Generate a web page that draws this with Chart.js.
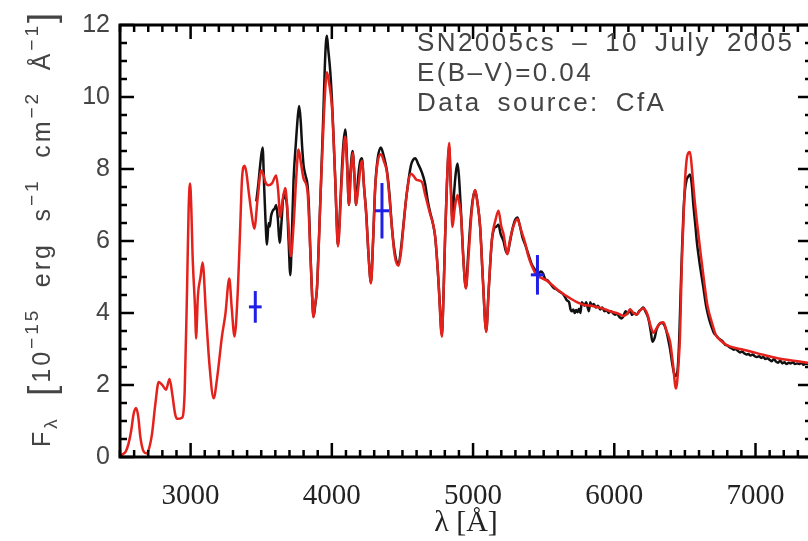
<!DOCTYPE html>
<html>
<head>
<meta charset="utf-8">
<script src="https://cdn.jsdelivr.net/npm/chart.js@4.4.1/dist/chart.umd.min.js"></script>
<style>
  html, body { margin: 0; padding: 0; background: #fff; overflow: hidden; }
  #wrap { position: relative; width: 830px; height: 541px; }
</style>
</head>
<body>
<div id="wrap"><canvas id="spectrumChart"></canvas></div>
<script>
// model spectrum (red), wavelength in Angstrom, flux in 1e-15 erg/s/cm2/A
const modelWave = [2500, 2514, 2540, 2561, 2580, 2596, 2614, 2630, 2644, 2668, 2691, 2710, 2727, 2750, 2774, 2800, 2826, 2851, 2870, 2890,
  2904, 2939, 2958, 2975, 2986, 2996, 3005, 3014, 3033, 3038, 3052, 3070, 3085, 3109, 3134, 3163, 3187, 3222, 3246, 3274,
  3290, 3311, 3335, 3352, 3364, 3382, 3395, 3411, 3430, 3451, 3475, 3500, 3515, 3529, 3550, 3576, 3606, 3620, 3635, 3650,
  3670, 3690, 3710, 3730, 3750, 3764, 3780, 3800, 3828, 3847, 3860, 3870, 3880, 3895, 3923, 3945, 3965, 3980, 4001, 4024,
  4043, 4070, 4095, 4110, 4121, 4135, 4147, 4160, 4172, 4185, 4213, 4230, 4243, 4260, 4277, 4292, 4307, 4325, 4347, 4370,
  4390, 4408, 4425, 4445, 4472, 4490, 4507, 4530, 4560, 4580, 4600, 4638, 4660, 4696, 4715, 4732, 4755, 4779, 4790, 4802,
  4815, 4831, 4842, 4854, 4870, 4890, 4900, 4916, 4930, 4949, 4970, 4990, 5015, 5030, 5050, 5070, 5093, 5110, 5133, 5160,
  5180, 5200, 5215, 5243, 5260, 5285, 5314, 5340, 5369, 5390, 5416, 5452, 5480, 5522, 5560, 5593, 5617, 5650, 5687, 5735,
  5780, 5852, 5920, 5970, 6030, 6064, 6088, 6112, 6135, 6159, 6185, 6206, 6225, 6241, 6260, 6277, 6300, 6325, 6348, 6370,
  6395, 6415, 6437, 6455, 6466, 6477, 6489, 6500, 6512, 6525, 6536, 6550, 6565, 6584, 6610, 6631, 6660, 6690, 6720, 6749,
  6800, 6890, 6938, 7055, 7173, 7244, 7300, 7400];
const modelFlux = [0.0, 0.06, 0.15, 0.38, 0.75, 1.19, 1.36, 1.1, 0.56, 0.15, 0.1, 0.3, 0.65, 1.46, 2.08, 2.0, 1.87, 2.17, 1.75, 1.2,
  1.06, 1.09, 1.82, 4.7, 6.9, 7.6, 6.9, 5.6, 3.96, 3.29, 4.5, 5.0, 5.4, 3.96, 2.54, 1.63, 2.17, 3.35, 3.96, 4.96,
  4.2, 3.35, 4.69, 6.48, 7.73, 8.09, 7.9, 7.38, 6.8, 6.34, 7.2, 7.96, 7.85, 7.64, 7.55, 7.6, 7.82, 7.4, 6.66, 7.1,
  7.47, 6.6, 5.58, 6.5, 7.9, 8.54, 8.2, 7.73, 7.37, 5.77, 4.5, 3.88, 4.2, 4.69, 7.55, 9.6, 10.69, 10.4, 9.71, 7.73,
  5.85, 7.7, 8.9, 7.9, 7.01, 7.9, 8.45, 7.8, 7.01, 7.4, 8.23, 7.4, 6.75, 5.6, 4.82, 6.0, 7.46, 8.2, 8.41, 8.2,
  7.91, 7.2, 6.39, 5.6, 5.31, 5.7, 6.39, 7.3, 7.87, 7.8, 7.7, 7.64, 7.3, 6.75, 6.5, 6.12, 4.9, 3.34, 4.4, 6.12,
  7.6, 8.72, 7.5, 6.39, 6.9, 7.28, 7.1, 6.66, 5.6, 4.68, 5.7, 6.8, 7.42, 7.1, 6.39, 4.9, 3.47, 4.6, 6.03, 6.6,
  6.84, 6.4, 6.21, 5.63, 6.0, 6.4, 6.61, 6.3, 5.94, 5.6, 5.31, 5.04, 4.98, 4.9, 4.78, 4.66, 4.59, 4.5, 4.41, 4.3,
  4.23, 4.19, 4.12, 4.05, 3.98, 3.92, 3.96, 4.1, 4.0, 3.96, 4.08, 4.13, 4.05, 3.88, 3.6, 3.45, 3.58, 3.72, 3.74, 3.5,
  3.2, 2.6, 1.9, 2.6, 3.43, 5.22, 6.5, 7.6, 8.25, 8.45, 8.47, 8.0, 7.3, 6.57, 5.7, 5.04, 4.2, 3.75, 3.38, 3.25,
  3.1, 3.0, 2.96, 2.84, 2.73, 2.69, 2.66, 2.6];

// observed spectrum (black)
const obsWave = [3465, 3480, 3495, 3510, 3520, 3530, 3541, 3552, 3560, 3570, 3583, 3595, 3606, 3618, 3630, 3645, 3658, 3670, 3682, 3694,
  3706, 3718, 3729, 3745, 3760, 3769, 3780, 3790, 3800, 3815, 3828, 3838, 3847, 3858, 3870, 3882, 3895, 3910, 3923, 3938,
  3950, 3958, 3965, 3975, 3989, 4001, 4012, 4024, 4035, 4043, 4055, 4070, 4082, 4095, 4108, 4121, 4132, 4147, 4160, 4172,
  4185, 4200, 4213, 4228, 4243, 4260, 4277, 4292, 4307, 4325, 4347, 4365, 4390, 4408, 4425, 4445, 4472, 4490, 4507, 4530,
  4560, 4575, 4590, 4610, 4638, 4660, 4680, 4696, 4715, 4732, 4750, 4765, 4779, 4790, 4802, 4815, 4831, 4842, 4854, 4865,
  4878, 4890, 4900, 4916, 4930, 4949, 4965, 4985, 5000, 5015, 5030, 5050, 5070, 5093, 5110, 5133, 5150, 5165, 5180, 5195,
  5215, 5230, 5243, 5260, 5280, 5300, 5314, 5330, 5350, 5369, 5390, 5416, 5440, 5463, 5480, 5495, 5510, 5530, 5550, 5570,
  5593, 5610, 5630, 5650, 5665, 5680, 5690, 5700, 5710, 5720, 5730, 5740, 5750, 5760, 5770, 5780, 5790, 5800, 5810, 5820,
  5830, 5840, 5855, 5870, 5885, 5900, 5915, 5930, 5945, 5960, 5975, 5990, 6005, 6020, 6035, 6050, 6064, 6080, 6095, 6112,
  6125, 6140, 6159, 6175, 6190, 6206, 6220, 6241, 6258, 6270, 6285, 6300, 6320, 6335, 6348, 6365, 6380, 6395, 6410, 6425,
  6437, 6450, 6460, 6470, 6480, 6490, 6500, 6512, 6525, 6536, 6548, 6560, 6575, 6584, 6600, 6615, 6631, 6650, 6670, 6690,
  6705, 6720, 6737, 6755, 6770, 6785, 6800, 6815, 6830, 6845, 6860, 6875, 6890, 6905, 6920, 6935, 6950, 6965, 6980, 6995,
  7010, 7025, 7040, 7055, 7070, 7085, 7100, 7115, 7130, 7145, 7160, 7175, 7190, 7205, 7220, 7235, 7250, 7265, 7280, 7295,
  7310, 7325, 7340, 7355, 7370, 7385, 7400];
const obsFlux = [7.1, 7.6, 8.2, 8.6, 7.6, 6.6, 5.9, 6.5, 6.4, 6.7, 6.85, 6.9, 7.0, 6.6, 5.95, 6.6, 7.3, 7.2, 7.0, 6.0,
  5.05, 6.3, 7.7, 8.7, 9.5, 9.75, 9.3, 8.6, 8.1, 7.8, 7.55, 6.9, 5.8, 4.7, 3.9, 4.2, 4.7, 6.2, 7.6, 9.3,
  10.8, 11.5, 11.7, 11.3, 10.7, 9.9, 8.9, 7.7, 6.5, 5.9, 6.6, 7.9, 8.7, 9.1, 8.2, 7.0, 7.9, 8.5, 7.8, 7.0,
  7.7, 8.2, 8.3, 7.5, 6.8, 5.6, 4.85, 6.0, 7.5, 8.3, 8.6, 8.4, 7.95, 7.3, 6.4, 5.7, 5.35, 5.8, 6.45, 7.3,
  8.1, 8.25, 8.3, 8.15, 7.9, 7.6, 7.1, 6.8, 6.5, 6.1, 5.2, 4.2, 3.4, 4.4, 6.1, 7.6, 8.6, 7.6, 6.6, 7.3,
  7.9, 8.15, 7.8, 6.7, 5.6, 4.7, 5.6, 6.7, 7.2, 7.4, 7.1, 6.4, 4.9, 3.5, 4.6, 6.0, 6.35, 6.4, 6.45, 6.2,
  6.0, 5.75, 5.65, 5.95, 6.35, 6.6, 6.65, 6.45, 6.1, 5.9, 5.65, 5.35, 5.2, 5.1, 5.15, 5.1, 4.95, 4.9, 4.8, 4.7,
  4.65, 4.6, 4.55, 4.45, 4.35, 4.3, 4.1, 4.05, 4.1, 4.0, 4.08, 4.02, 4.12, 4.0, 4.3, 4.25, 4.2, 4.3, 4.18, 4.05,
  4.3, 4.2, 4.25, 4.15, 4.2, 4.1, 4.15, 4.05, 4.08, 4.0, 4.05, 4.0, 3.95, 3.98, 3.9, 3.85, 3.9, 4.05, 3.98, 4.1,
  3.95, 4.0, 3.95, 4.05, 4.1, 4.15, 4.05, 3.85, 3.5, 3.2, 3.3, 3.55, 3.7, 3.72, 3.7, 3.55, 3.3, 3.0, 2.6, 2.3,
  2.25, 2.5, 3.3, 4.6, 5.8, 6.8, 7.4, 7.7, 7.8, 7.85, 7.6, 7.0, 6.4, 6.0, 5.5, 5.1, 4.7, 4.2, 3.85, 3.6,
  3.45, 3.38, 3.3, 3.25, 3.2, 3.12, 3.1, 3.05, 3.02, 2.98, 3.0, 2.95, 2.9, 2.93, 2.88, 2.85, 2.86, 2.82, 2.85, 2.8,
  2.78, 2.8, 2.75, 2.78, 2.72, 2.74, 2.7, 2.66, 2.72, 2.65, 2.62, 2.68, 2.6, 2.63, 2.58, 2.62, 2.6, 2.63, 2.58, 2.6,
  2.58, 2.62, 2.56, 2.6, 2.58, 2.57, 2.56];

// photometric points (blue crosses)
const photWave = [3458, 4355, 5456];
const photFlux = [4.17, 6.84, 5.06];
const photErr = [0.44, 0.77, 0.55];
const photHalfWidth = [45, 50, 47];

const xTicks = [3000, 4000, 5000, 6000, 7000];
const yTicks = [0, 2, 4, 6, 8, 10, 12];
const infoLines = ['SN2005cs – 10 July 2005', 'E(B–V)=0.04', 'Data source: CfA'];

function pairs(xs, ys) {
  return xs.map((v, i) => ({ x: v, y: ys[i] }));
}

const datasets = [];
photWave.forEach((w, i) => {
  datasets.push({
    data: [{ x: w, y: photFlux[i] - photErr[i] }, { x: w, y: photFlux[i] + photErr[i] }],
    borderColor: '#1f1fe6', borderWidth: 3, showLine: true, pointRadius: 0
  });
  datasets.push({
    data: [{ x: w - photHalfWidth[i], y: photFlux[i] }, { x: w + photHalfWidth[i], y: photFlux[i] }],
    borderColor: '#1f1fe6', borderWidth: 3, showLine: true, pointRadius: 0
  });
});
datasets.push({
  label: 'model',
  data: pairs(modelWave, modelFlux),
  borderColor: '#e5211c', borderWidth: 2.5, showLine: true, pointRadius: 0,
  cubicInterpolationMode: 'monotone'
});
datasets.push({
  label: 'observed',
  data: pairs(obsWave, obsFlux),
  borderColor: '#111', borderWidth: 2.5, showLine: true, pointRadius: 0,
  cubicInterpolationMode: 'monotone'
});

// box with inward ticks on all four sides
const framePlugin = {
  id: 'frame',
  afterDatasetsDraw(chart) {
    const { ctx, chartArea: a, scales: { x, y } } = chart;
    ctx.save();
    ctx.strokeStyle = '#000';
    ctx.lineWidth = 3;
    ctx.strokeRect(a.left, a.top, a.right - a.left, a.bottom - a.top);
    ctx.lineWidth = 2.5;
    ctx.beginPath();
    for (let v = 2500; v <= 7400; v += 100) {
      const px = x.getPixelForValue(v);
      const len = v % 1000 === 0 ? 14 : 7;
      ctx.moveTo(px, a.bottom); ctx.lineTo(px, a.bottom - len);
      ctx.moveTo(px, a.top); ctx.lineTo(px, a.top + len);
    }
    for (let v = 0; v <= 12; v += 0.5) {
      const py = y.getPixelForValue(v);
      const len = v % 2 === 0 ? 14 : 7;
      ctx.moveTo(a.left, py); ctx.lineTo(a.left + len, py);
      ctx.moveTo(a.right, py); ctx.lineTo(a.right - len, py);
    }
    ctx.stroke();
    ctx.restore();
  }
};

// draws text char by char; extra width goes into spaces (ws) and between letters (ls)
function drawSpaced(ctx, text, x0, y0, ls, ws) {
  let s = x0;
  for (const ch of text) {
    ctx.fillText(ch, s, y0);
    s += ctx.measureText(ch).width + ls + (ch === ' ' ? ws : 0);
  }
  return s;
}

const textPlugin = {
  id: 'texts',
  afterDraw(chart) {
    const ctx = chart.ctx;
    ctx.save();
    ctx.fillStyle = '#444';
    ctx.textBaseline = 'alphabetic';
    ctx.textAlign = 'left';

    // annotation block
    ctx.font = '26px "Liberation Sans", sans-serif';
    const t0 = infoLines[0];
    const w0 = ctx.measureText(t0).width;
    const ls = 2.4;
    const spaces = t0.split(' ').length - 1;
    const ws = (375 - w0 - ls * (t0.length - 1)) / spaces;
    infoLines.forEach((t, i) => drawSpaced(ctx, t, 417, 51 + i * 30, ls, ws));

    // y axis title with sub/superscripts
    const parts = [
      ['F', 'n'], ['λ', 'sub'], [' ', 'n'], ['[', 'br'], ['10', 'n'], ['−15', 'sup'],
      [' erg s', 'n'], ['−1', 'sup'], [' cm', 'n'], ['−2', 'sup'], [' Å', 'n'], ['−1', 'sup'], [']', 'br']
    ];
    const styles = {
      n: { font: '25px "Liberation Sans", sans-serif', dy: 0 },
      sup: { font: '19px "Liberation Sans", sans-serif', dy: -12 },
      sub: { font: '19px "Liberation Sans", sans-serif', dy: 7 },
      br: { font: '36px "Liberation Sans", sans-serif', dy: 4 }
    };
    let natural = 0, nChars = 0, nSpaces = 0;
    const yls = 3;
    parts.forEach(([t, k]) => {
      ctx.font = styles[k].font;
      natural += ctx.measureText(t).width;
      for (const ch of t) { nChars++; if (ch === ' ') nSpaces++; }
    });
    const yws = (437 - natural - yls * nChars) / nSpaces;
    ctx.translate(50, 447);
    ctx.rotate(-Math.PI / 2);
    let s = 0;
    parts.forEach(([t, k]) => {
      ctx.font = styles[k].font;
      s = drawSpaced(ctx, t, s, styles[k].dy, yls, yws);
    });
    ctx.restore();
  }
};

new Chart(document.getElementById('spectrumChart').getContext('2d'), {
  type: 'scatter',
  data: { datasets },
  options: {
    responsive: true,
    maintainAspectRatio: false,
    animation: false,
    layout: { padding: { top: 11, right: 18, left: 0, bottom: 0 } },
    plugins: { legend: { display: false }, tooltip: { enabled: false } },
    scales: {
      x: {
        type: 'linear', min: 2500, max: 7400,
        afterFit: (s) => { s.height = 84; },
        afterBuildTicks: (s) => { s.ticks = xTicks.map(v => ({ value: v })); },
        grid: { display: false, drawTicks: false },
        border: { display: false },
        ticks: {
          color: '#222', padding: 22,
          font: { family: '"Liberation Serif", serif', size: 29 },
          callback: (v) => String(v)
        },
        title: { display: true, text: 'λ [Å]', color: '#222', font: { family: '"Liberation Serif", serif', size: 30 }, padding: 0 }
      },
      y: {
        type: 'linear', min: 0, max: 12,
        afterFit: (s) => { s.width = 120; },
        afterBuildTicks: (s) => { s.ticks = yTicks.map(v => ({ value: v })); },
        grid: { display: false, drawTicks: false },
        border: { display: false },
        ticks: { color: '#444', padding: 10, font: { family: '"Liberation Sans", sans-serif', size: 25 } }
      }
    }
  },
  plugins: [framePlugin, textPlugin]
});
</script>
</body>
</html>
